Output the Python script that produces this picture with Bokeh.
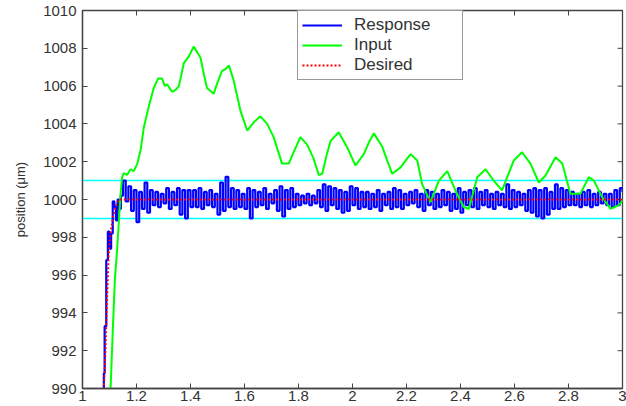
import numpy as np
from bokeh.plotting import figure
from bokeh.models import FixedTicker, Range1d, Legend
from bokeh.embed import file_html
from bokeh.resources import INLINE

# ---------------- data ----------------
x_ticks = [1, 1.2, 1.4, 1.6, 1.8, 2, 2.2, 2.4, 2.6, 2.8, 3]
x_tick_labels = ["1", "1.2", "1.4", "1.6", "1.8", "2", "2.2", "2.4", "2.6", "2.8", "3"]
y_ticks = [990, 992, 994, 996, 998, 1000, 1002, 1004, 1006, 1008, 1010]

band_upper = 1001.0
band_lower = 999.0

# Desired trajectory
desired_t = [1.070, 1.079, 1.085, 1.091, 1.097, 1.104, 1.112, 1.122, 1.135, 3.0]
desired_y = [987.0, 990.0, 992.0, 994.8, 997.1, 998.2, 999.0, 999.6, 1000.0, 1000.0]

# Response: rise portion
resp_rise_t = [1.070, 1.079, 1.082, 1.088, 1.094, 1.100, 1.106, 1.112, 1.118, 1.124, 1.130, 1.136, 1.142]
resp_rise_y = [985.0, 990.8, 993.3, 996.8, 998.3, 997.4, 998.2, 999.9, 999.6, 998.9, 1000.0, 999.5, 1000.2]
# Response: settled portion, samples every 0.01 s starting at 1.15
resp_settle_y = [
    1001.0, 999.9, 1000.7, 999.4, 1000.5, 998.8, 1000.4, 999.5, 1000.9, 999.3,
    1000.5, 999.7, 1000.4, 999.6, 1000.3, 999.8, 1000.6, 999.5, 1000.4, 999.7,
    1000.6, 999.2, 1000.5, 999.0, 1000.5, 999.6, 1000.5, 999.6, 1000.6, 999.5,
    1000.4, 999.7, 1000.5, 999.6, 1000.3, 999.2, 1000.9, 999.4, 1001.2, 999.6,
    1000.6, 999.5, 1000.5, 999.6, 1000.3, 999.5, 1000.6, 999.0, 1000.5, 999.6,
    1000.4, 999.7, 1000.6, 999.5, 1000.3, 999.8, 1000.5, 999.4, 1000.7, 999.1,
    1000.5, 999.5, 1000.6, 999.6, 1000.3, 999.7, 1000.2, 999.8, 1000.3, 999.7,
    1000.2, 999.8, 1000.5, 999.6, 1000.8, 999.4, 1000.7, 999.7, 1000.6, 999.5,
    1000.5, 999.3, 1000.4, 999.4, 1000.7, 999.7, 1000.6, 999.5, 1000.4, 999.6,
    1000.4, 999.5, 1000.3, 999.6, 1000.5, 999.4, 1000.3, 999.7, 1000.4, 999.5,
    1000.6, 999.6, 1000.5, 999.5, 1000.3, 999.7, 1000.4, 999.8, 1000.5, 999.6,
    1000.3, 999.4, 1000.5, 999.7, 1000.4, 999.5, 1000.3, 999.6, 1000.5, 999.7,
    1000.4, 999.4, 1000.3, 999.5, 1000.6, 999.3, 1000.4, 999.7, 1000.5, 999.6,
    1000.6, 999.5, 1000.4, 999.7, 1000.5, 999.6, 1000.3, 999.5, 1000.4, 999.7,
    1000.3, 999.6, 1000.8, 999.5, 1000.5, 999.6, 1000.4, 999.7, 1000.3, 999.4,
    1000.5, 999.3, 1000.6, 999.1, 1000.5, 999.0, 1000.6, 999.2, 1000.4, 999.5,
    1000.8, 999.5, 1000.6, 999.6, 1000.5, 999.7, 1000.4, 999.7, 1000.3, 999.6,
    1000.4, 999.7, 1000.5, 999.6, 1000.3, 999.7, 1000.4, 999.8, 1000.3, 999.7,
    1000.3, 999.6, 1000.5, 999.7, 1000.6, 1000.4,
]
resp_settle_t = list(np.round(np.linspace(1.15, 3.00, len(resp_settle_y)), 4))

# Input
input_t = [1.100, 1.104, 1.112, 1.120, 1.128, 1.135, 1.141, 1.147, 1.153, 1.165, 1.178, 1.190, 1.203, 1.215,
           1.227, 1.245, 1.264, 1.280, 1.295, 1.305, 1.313, 1.332, 1.345, 1.357, 1.375, 1.395, 1.412, 1.437,
           1.450, 1.461, 1.486, 1.500, 1.517, 1.530, 1.542, 1.560, 1.585, 1.610, 1.635, 1.659, 1.684, 1.708,
           1.739, 1.764, 1.785, 1.807, 1.832, 1.855, 1.875, 1.888, 1.905, 1.919, 1.949, 1.980, 2.011, 2.042,
           2.060, 2.079, 2.110, 2.130, 2.147, 2.178, 2.215, 2.240, 2.258, 2.289, 2.320, 2.351, 2.381, 2.412,
           2.431, 2.462, 2.493, 2.523, 2.554, 2.597, 2.628, 2.659, 2.690, 2.715, 2.752, 2.777, 2.807, 2.844,
           2.875, 2.894, 2.925, 2.956, 2.986, 3.010]
input_y = [988.0, 990.0, 993.0, 995.8, 997.3, 998.9, 1000.3, 1001.2, 1001.4, 1001.3, 1001.6, 1001.5, 1001.9, 1002.6,
           1003.8, 1004.9, 1005.9, 1006.4, 1006.4, 1006.0, 1006.1, 1005.7, 1005.8, 1006.0, 1007.2, 1007.6, 1008.1, 1007.5,
           1006.6, 1005.9, 1005.6, 1006.2, 1006.8, 1006.9, 1007.1, 1006.3, 1004.7, 1003.65, 1004.1, 1004.4, 1004.0, 1003.3,
           1001.9, 1001.9, 1002.6, 1003.3, 1002.9, 1002.2, 1001.3, 1001.36, 1002.4, 1003.1, 1003.56, 1002.77, 1001.8, 1002.4,
           1003.0, 1003.5, 1002.8, 1002.0, 1001.36, 1001.7, 1002.4, 1002.06, 1000.8, 999.86, 1001.0, 1001.5, 1000.48, 999.6,
           999.5, 1001.18, 1001.6, 1001.0, 1000.48, 1002.06, 1002.5, 1001.9, 1000.9, 1001.27, 1002.24, 1001.9, 1000.3, 1000.3,
           1001.18, 1001.0, 1000.12, 999.5, 999.7, 1000.1]

# ---------------- figure ----------------
FONT = "Liberation Sans"
AXIS_COLOR = "#444444"
TEXT_COLOR = "#333333"

p = figure(width=626, height=406, output_backend="svg", toolbar_location=None,
           x_range=Range1d(1, 3), y_range=Range1d(990, 1010),
           min_border_left=82, min_border_right=4, min_border_top=10, min_border_bottom=18)
p.xgrid.visible = False
p.ygrid.visible = False
p.outline_line_color = AXIS_COLOR
p.outline_line_width = 1.3
p.background_fill_color = "white"
p.border_fill_color = "white"

for ax in (p.xaxis[0], p.yaxis[0]):
    ax.axis_line_color = AXIS_COLOR
    ax.axis_line_width = 1.3
    ax.major_tick_line_color = AXIS_COLOR
    ax.major_tick_in = 5
    ax.major_tick_out = 0
    ax.minor_tick_line_color = None
    ax.major_label_text_font = FONT
    ax.major_label_text_font_size = "15px"
    ax.major_label_text_color = TEXT_COLOR

p.xaxis[0].ticker = FixedTicker(ticks=x_ticks)
p.xaxis[0].major_label_overrides = {t: l for t, l in zip(x_ticks, x_tick_labels)}
p.xaxis[0].major_label_standoff = 2
p.yaxis[0].ticker = FixedTicker(ticks=y_ticks)
p.yaxis[0].major_label_standoff = 6
p.yaxis[0].axis_label = "position (μm)"
p.yaxis[0].axis_label_text_font = FONT
p.yaxis[0].axis_label_text_font_size = "13px"
p.yaxis[0].axis_label_text_font_style = "normal"
p.yaxis[0].axis_label_text_color = TEXT_COLOR
p.yaxis[0].axis_label_standoff = 12

# inward ticks on the top and right edges of the box (half of each dash is clipped by the frame)
p.scatter(x=x_ticks, y=[1010] * len(x_ticks), marker="dash", angle=np.pi / 2, size=10,
          line_color=AXIS_COLOR, line_width=1)
p.scatter(x=[3] * len(y_ticks), y=y_ticks, marker="dash", size=10,
          line_color=AXIS_COLOR, line_width=1)

# tolerance band
p.line(x=[1, 3], y=[band_upper, band_upper], line_color="#00FFFF", line_width=1.5)
p.line(x=[1, 3], y=[band_lower, band_lower], line_color="#00FFFF", line_width=1.5)

resp_t = resp_rise_t + resp_settle_t
resp_y = resp_rise_y + resp_settle_y
r_resp = p.step(x=resp_t, y=resp_y, mode="after", line_color="#0000FF", line_width=2.2)
r_in = p.line(x=input_t, y=input_y, line_color="#00FF00", line_width=2)
r_des = p.line(x=desired_t, y=desired_y, line_color="#FF0000", line_width=2, line_dash="2 2")

legend = Legend(items=[("Response", [r_resp]), ("Input", [r_in]), ("Desired", [r_des])],
                location=(215, 308))
legend.label_text_font = FONT
legend.label_text_font_size = "17px"
legend.label_text_color = TEXT_COLOR
legend.glyph_width = 40
legend.glyph_height = 20
legend.label_height = 20
legend.label_width = 104
legend.label_standoff = 12
legend.spacing = 0
legend.padding = 4
legend.margin = 0
legend.border_line_color = "#333333"
legend.border_line_width = 1
legend.background_fill_color = "white"
legend.background_fill_alpha = 1.0
p.add_layout(legend, "center")

open("out.html", "w").write(file_html(p, INLINE))
